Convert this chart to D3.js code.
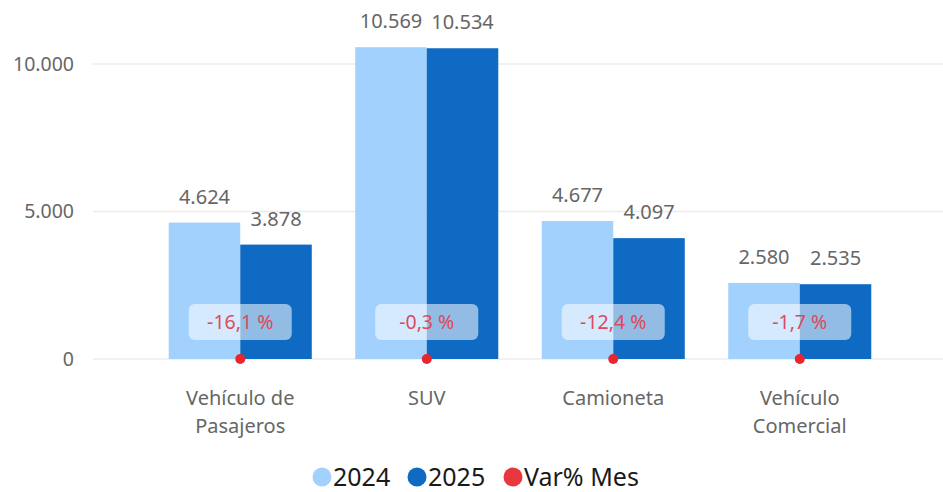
<!DOCTYPE html>
<html>
<head>
<meta charset="utf-8">
<script src="https://cdn.jsdelivr.net/npm/d3@7"></script>
<style>
  body { margin: 0; background: #fff; }
  svg { display: block; font-family: "Segoe UI", "Noto Sans", "Open Sans", sans-serif; }
</style>
</head>
<body>
<svg id="chart" width="943" height="492"></svg>
<script>
var categories = [["Vehículo de", "Pasajeros"], ["SUV"], ["Camioneta"], ["Vehículo", "Comercial"]];
var series = ["2024", "2025"];
var values2024 = [4624, 10569, 4677, 2580];
var values2025 = [3878, 10534, 4097, 2535];
var varMes = [-16.1, -0.3, -12.4, -1.7];
var yTicks = [0, 5000, 10000];

var colors = { "2024": "#a3d1fd", "2025": "#0e6ac2" };
var redDot = "#e8262e";

var svg = d3.select("#chart");
var fmt = d3.formatLocale({ decimal: ",", thousands: ".", grouping: [3], currency: ["", ""], minus: "-" });
var fmtInt = fmt.format(",d");
var fmtPct = fmt.format(".1f");

var catKeys = categories.map(function (c) { return c.join(" "); });

var x0 = d3.scaleBand()
    .domain(catKeys)
    .range([147, 893])
    .paddingInner(0.233)
    .paddingOuter(0.1165);

var x1 = d3.scaleBand()
    .domain(series)
    .range([0, x0.bandwidth()]);

var y = d3.scaleLinear()
    .domain([0, 10000])
    .range([359, 64]);

// grid lines
svg.append("g")
  .selectAll("line")
  .data(yTicks)
  .enter()
  .append("line")
  .attr("x1", 93)
  .attr("x2", 943)
  .attr("y1", function (d) { return y(d); })
  .attr("y2", function (d) { return y(d); })
  .attr("stroke", "#ececec")
  .attr("stroke-width", 1.5);

svg.append("g")
  .selectAll("text")
  .data(yTicks)
  .enter()
  .append("text")
  .attr("x", 74)
  .attr("y", function (d) { return y(d); })
  .attr("dy", "0.35em")
  .attr("text-anchor", "end")
  .style("font-size", "19.5px")
  .style("fill", "#666")
  .text(function (d) { return fmtInt(d); });

var rows = catKeys.map(function (k, i) {
  return { key: k, lines: categories[i], v: { "2024": values2024[i], "2025": values2025[i] }, pct: varMes[i] };
});

var groups = svg.append("g")
  .selectAll("g")
  .data(rows)
  .enter()
  .append("g")
  .attr("transform", function (d) { return "translate(" + x0(d.key) + ",0)"; });

groups.selectAll("rect")
  .data(function (d) { return series.map(function (s) { return { s: s, v: d.v[s] }; }); })
  .enter()
  .append("rect")
  .attr("x", function (d) { return x1(d.s); })
  .attr("width", x1.bandwidth())
  .attr("y", function (d) { return y(d.v); })
  .attr("height", function (d) { return y(0) - y(d.v); })
  .attr("fill", function (d) { return colors[d.s]; });

groups.selectAll("text.val")
  .data(function (d) { return series.map(function (s) { return { s: s, v: d.v[s] }; }); })
  .enter()
  .append("text")
  .attr("class", "val")
  .attr("x", function (d) { return x1(d.s) + x1.bandwidth() / 2; })
  .attr("y", function (d) { return y(d.v) - 19; })
  .attr("text-anchor", "middle")
  .style("font-size", "20px")
  .style("fill", "#666")
  .text(function (d) { return fmtInt(d.v); });

// var% dots (on the value axis, near zero)
groups.append("circle")
  .attr("cx", x0.bandwidth() / 2)
  .attr("cy", function (d) { return y(d.pct / 100); })
  .attr("r", 5)
  .attr("fill", redDot);

groups.append("rect")
  .attr("x", x0.bandwidth() / 2 - 51.5)
  .attr("y", 304)
  .attr("width", 103)
  .attr("height", 36)
  .attr("rx", 6)
  .attr("fill", "#ffffff")
  .attr("fill-opacity", 0.55);

groups.append("text")
  .attr("x", x0.bandwidth() / 2)
  .attr("y", 322)
  .attr("dy", "0.35em")
  .attr("text-anchor", "middle")
  .style("font-size", "19.5px")
  .style("fill", "#dd4a5a")
  .text(function (d) { return fmtPct(d.pct) + " %"; });

// category labels
groups.append("text")
  .attr("text-anchor", "middle")
  .style("font-size", "20px")
  .style("fill", "#666")
  .selectAll("tspan")
  .data(function (d) { return d.lines; })
  .enter()
  .append("tspan")
  .attr("x", x0.bandwidth() / 2)
  .attr("y", function (d, i) { return 405 + i * 28; })
  .text(function (d) { return d; });

// legend
var legendItems = [
  { label: "2024", color: colors["2024"], x: 322 },
  { label: "2025", color: colors["2025"], x: 417 },
  { label: "Var% Mes", color: "#e8383d", x: 513 }
];
var legend = svg.append("g");
legend.selectAll("circle")
  .data(legendItems)
  .enter()
  .append("circle")
  .attr("cx", function (d) { return d.x; })
  .attr("cy", 477)
  .attr("r", 9.5)
  .attr("fill", function (d) { return d.color; });
legend.selectAll("text")
  .data(legendItems)
  .enter()
  .append("text")
  .attr("x", function (d) { return d.x + 11; })
  .attr("y", 477)
  .attr("dy", "0.35em")
  .style("font-size", "25px")
  .style("fill", "#1a1a1a")
  .text(function (d) { return d.label; });
</script>
</body>
</html>
